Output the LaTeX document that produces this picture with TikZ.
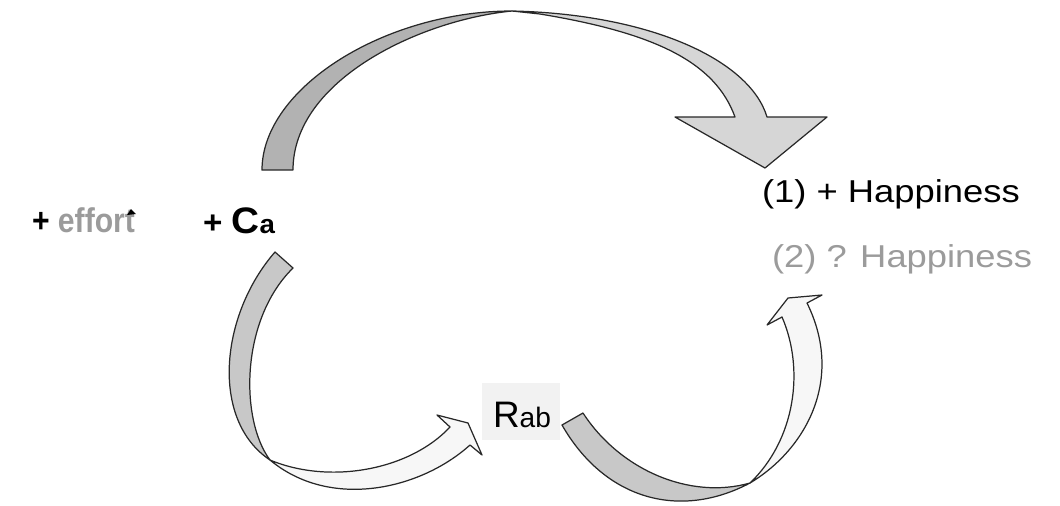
\documentclass[tikz,border=0pt]{standalone}
\usepackage{fontspec}
\setmainfont{Liberation Sans}
\definecolor{topdark}{RGB}{178,178,178}
\definecolor{toplight}{RGB}{214,214,214}
\definecolor{lowdark}{RGB}{200,200,200}
\definecolor{lowlight}{RGB}{247,247,247}
\definecolor{edgecol}{RGB}{40,40,40}
\definecolor{softgray}{RGB}{155,155,155}
\definecolor{rabbg}{RGB}{242,242,242}
\tikzset{
  band/.style={draw=edgecol, line width=0.7pt, line join=round},
  lbl/.style={anchor=base west, inner sep=0pt, outer sep=0pt}
}
\begin{document}
\begin{tikzpicture}[x=0.02cm, y=-0.02cm]
\useasboundingbox (0,0) rectangle (1060,505);

% ---- top arrow: + Ca -> (1) + Happiness
\filldraw[band, fill=toplight]
  (512,11) .. controls (650,14) and (750,60) .. (767,117)
  -- (827,117) -- (765,168) -- (675,117) -- (735,117)
  .. controls (715,62) and (655,33) .. (540,14)
  -- (512,11) -- cycle;
\filldraw[band, fill=topdark]
  (262,170) .. controls (262,88) and (385,11) .. (512,11)
  .. controls (420,20) and (293,80) .. (293,170)
  -- cycle;

% ---- lower-left arrow: + Ca -> Rab
\filldraw[band, fill=lowdark]
  (275,252) .. controls (220,315) and (210,420) .. (270,460)
  .. controls (240,420) and (240,320) .. (293,268)
  -- cycle;
\filldraw[band, fill=lowlight]
  (270,460) .. controls (330,485) and (410,470) .. (450,427)
  -- (437,415) -- (468,423) -- (482,455) -- (470,445)
  .. controls (420,490) and (330,510) .. (270,460)
  -- cycle;

% ---- lower-right arrow: Rab -> (2) ? Happiness
\filldraw[band, fill=lowdark]
  (583,413) .. controls (620,470) and (690,500) .. (750,483)
  .. controls (680,520) and (605,500) .. (562,425)
  -- cycle;
\filldraw[band, fill=lowlight]
  (750,483) .. controls (805,450) and (845,380) .. (807,303)
  -- (822,295) -- (788,298) -- (767,325) -- (782,317)
  .. controls (805,370) and (795,440) .. (750,483)
  -- cycle;

% ---- texts
\node[lbl] (effort) at (32,232) {\scalebox{0.88}[1]{\fontsize{19.5}{22}\selectfont\bfseries + \textcolor{softgray}{effort}}};
\fill (127,215) -- (131,209) -- (136,214) -- cycle;
\node[lbl] (ca) at (203,233) {\scalebox{1.05}[1]{\fontsize{18}{20}\selectfont\bfseries + {\fontsize{21}{22}\selectfont C}{\fontsize{15}{16}\selectfont a}}};
\node[lbl] (h1) at (762,202) {\scalebox{1.15}[1]{\fontsize{18}{20}\selectfont (1) + Happiness}};
\node[lbl, text=softgray] (h2) at (772,267) {\scalebox{1.15}[1]{\fontsize{18}{20}\selectfont (2) ? Happiness}};
\node[fill=rabbg, inner sep=0pt, minimum width=1.56cm, minimum height=1.14cm] (rabbox) at (521,411.5) {};
\node[lbl] (rab) at (493,427) {\fontsize{21}{24}\selectfont R{\fontsize{16}{18}\selectfont ab}};
\end{tikzpicture}
\end{document}
